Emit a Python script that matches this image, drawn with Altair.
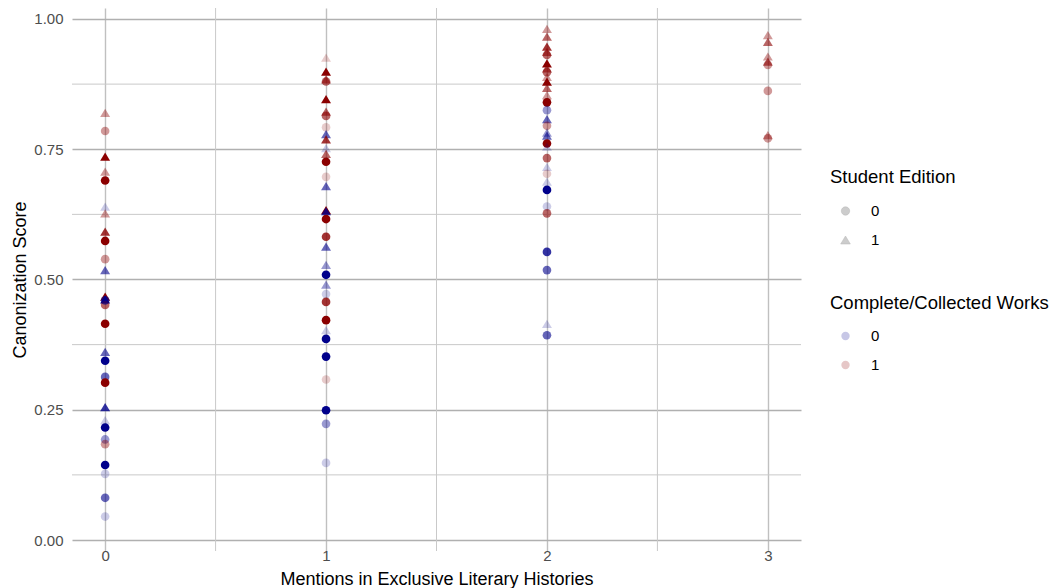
import altair as alt
import pandas as pd

# Mentions in exclusive literary histories (x)
mentions = (
    [0] * 29 + [1] * 33 + [2] * 31 + [3] * 8
)
# Canonization score (y)
scores = [
    # x = 0
    0.820, 0.785, 0.736, 0.707, 0.690, 0.640, 0.627, 0.592, 0.574, 0.539,
    0.518, 0.467, 0.462, 0.451, 0.415, 0.361, 0.344, 0.313, 0.302, 0.255,
    0.230, 0.216, 0.193, 0.184, 0.144, 0.127, 0.081, 0.045, 0.460,
    # x = 1
    0.926, 0.899, 0.884, 0.880, 0.846, 0.822, 0.814, 0.792, 0.779, 0.769,
    0.752, 0.741, 0.726, 0.697, 0.679, 0.633, 0.631, 0.616, 0.582, 0.563,
    0.528, 0.509, 0.490, 0.472, 0.457, 0.422, 0.403, 0.386, 0.352, 0.308,
    0.249, 0.223, 0.148,
    # x = 2
    0.981, 0.966, 0.947, 0.937, 0.931, 0.915, 0.905, 0.898, 0.889, 0.880,
    0.868, 0.854, 0.840, 0.825, 0.808, 0.795, 0.782, 0.776, 0.761, 0.755,
    0.733, 0.716, 0.703, 0.688, 0.672, 0.640, 0.627, 0.553, 0.518, 0.415,
    0.393,
    # x = 3
    0.969, 0.956, 0.928, 0.918, 0.912, 0.862, 0.777, 0.771,
]
# Student edition (0 = no, 1 = yes)
student = [
    # x = 0
    1, 0, 1, 1, 0, 1, 1, 1, 0, 0,
    1, 1, 1, 0, 0, 1, 0, 0, 0, 1,
    1, 0, 0, 0, 0, 0, 0, 0, 0,
    # x = 1
    1, 1, 1, 0, 1, 1, 0, 0, 1, 1,
    1, 1, 0, 0, 1, 1, 1, 0, 0, 1,
    1, 0, 1, 0, 0, 0, 1, 0, 0, 0,
    0, 0, 0,
    # x = 2
    1, 1, 1, 1, 0, 1, 1, 0, 1, 1,
    1, 1, 0, 0, 1, 0, 1, 1, 0, 1,
    0, 1, 0, 1, 0, 0, 0, 0, 0, 1,
    0,
    # x = 3
    1, 1, 1, 1, 0, 0, 1, 0,
]
# Complete / collected works (0 = no, 1 = yes)
collected = [
    # x = 0
    1, 1, 1, 1, 1, 0, 1, 1, 1, 1,
    0, 1, 0, 1, 1, 0, 0, 0, 1, 0,
    0, 0, 0, 1, 0, 0, 0, 0, 0,
    # x = 1
    1, 1, 1, 1, 1, 1, 1, 1, 0, 1,
    0, 1, 1, 1, 0, 1, 0, 1, 1, 0,
    0, 0, 0, 0, 1, 1, 0, 0, 0, 1,
    0, 0, 0,
    # x = 2
    1, 1, 1, 1, 1, 1, 1, 1, 1, 1,
    1, 1, 1, 0, 0, 1, 0, 0, 1, 0,
    1, 0, 1, 0, 0, 0, 1, 0, 0, 0,
    0,
    # x = 3
    1, 1, 1, 1, 1, 1, 1, 1,
]
# Transparency level (third mapped variable, 1 = faint ... 5 = solid)
level = [
    # x = 0
    2, 2, 5, 2, 5, 1, 2, 4, 5, 2,
    3, 5, 5, 3, 5, 3, 5, 3, 5, 4,
    1, 5, 2, 2, 5, 1, 3, 1, 3,
    # x = 1
    1, 5, 3, 3, 5, 3, 3, 1, 3, 4,
    1, 3, 5, 1, 3, 5, 4, 5, 4, 3,
    2, 5, 2, 1, 4, 5, 1, 5, 5, 1,
    5, 2, 1,
    # x = 2
    2, 3, 4, 3, 3, 5, 3, 3, 2, 5,
    3, 2, 5, 2, 3, 2, 2, 3, 5, 1,
    3, 1, 1, 1, 5, 1, 3, 4, 3, 1,
    3,
    # x = 3
    2, 3, 2, 3, 2, 2, 2, 2,
]

minor_y = [0.125, 0.375, 0.625, 0.875]
minor_x = [0.5, 1.5, 2.5]
major_y = [0, 0.25, 0.5, 0.75, 1.0]
major_x = [0, 1, 2, 3]

df = pd.DataFrame({
    "mentions": mentions,
    "score": scores,
    "student": [str(s) for s in student],
    "collected": collected,
    "level": level,
})

TRI = "M0,-0.95L1.15,0.95L-1.15,0.95Z"

xscale = alt.Scale(domain=[-0.15, 3.15], nice=False, zero=False)
yscale = alt.Scale(domain=[-0.0211, 1.0211], nice=False, zero=False)

xaxis = alt.Axis(
    values=major_x, format="d", grid=True, gridColor="#c0c0c0",
    gridWidth=1.4, domain=False, ticks=False, labelPadding=-3,
    labelFontSize=15, labelColor="#4d4d4d", titleFontSize=18,
    titleColor="#000000", titleFontWeight="normal", titlePadding=7,
)
yaxis = alt.Axis(
    values=major_y, format=".2f", grid=True, gridColor="#b0b0b0",
    gridWidth=1.6, domain=False, ticks=False, labelPadding=9,
    labelFontSize=15, labelColor="#4d4d4d", titleFontSize=18,
    titleColor="#000000", titleFontWeight="normal", titlePadding=4,
)
XT = "Mentions in Exclusive Literary Histories"
YT = "Canonization Score"

grid_minor_y = alt.Chart(pd.DataFrame({"v": minor_y})).mark_rule(
    color="#c9c9c9", strokeWidth=1
).encode(y=alt.Y("v:Q", scale=yscale, axis=yaxis, title=YT))

grid_minor_x = alt.Chart(pd.DataFrame({"v": minor_x})).mark_rule(
    color="#c9c9c9", strokeWidth=1
).encode(x=alt.X("v:Q", scale=xscale, axis=xaxis, title=XT))

points = alt.Chart(df).mark_point(filled=True, size=75, strokeWidth=0).encode(
    x=alt.X("mentions:Q", scale=xscale, title=XT, axis=xaxis),
    y=alt.Y("score:Q", scale=yscale, title=YT, axis=yaxis),
    shape=alt.Shape(
        "student:N",
        scale=alt.Scale(domain=["0", "1"], range=["circle", TRI]),
        legend=alt.Legend(
            title="Student Edition", orient="none", legendX=758, legendY=160,
            symbolFillColor="#9a9a9a", symbolStrokeColor="#707070",
            symbolOpacity=0.5, symbolStrokeWidth=0.5, symbolSize=70,
            rowPadding=13, titlePadding=17, labelOffset=18,
        ),
    ),
    color=alt.Color(
        "collected:N",
        scale=alt.Scale(domain=[0, 1], range=["#00008B", "#8B0000"]),
        legend=alt.Legend(
            title="Complete/Collected Works", orient="none", legendX=758,
            legendY=286, symbolType="circle", symbolOpacity=0.22,
            symbolStrokeWidth=0, symbolSize=70, rowPadding=13,
            titlePadding=16, labelOffset=18,
        ),
    ),
    opacity=alt.Opacity(
        "level:Q", scale=alt.Scale(domain=[1, 5], range=[0.2, 1.0]), legend=None
    ),
)

chart = alt.layer(grid_minor_y, grid_minor_x, points).properties(
    width=729,
    height=543,
    autosize=alt.AutoSizeParams(type="none"),
    padding={"left": 64, "top": 0, "right": 248, "bottom": 37},
).configure(
    font="Liberation Sans",
    view=alt.ViewConfig(stroke=None),
    legend=alt.LegendConfig(
        titleFontSize=18.5, titleFontWeight="normal", titleColor="#000000",
        labelFontSize=15, labelColor="#000000", padding=0, symbolOffset=8,
        titleLimit=400,
    ),
)

chart.save("out.html", embed_options={"renderer": "svg", "actions": False})
